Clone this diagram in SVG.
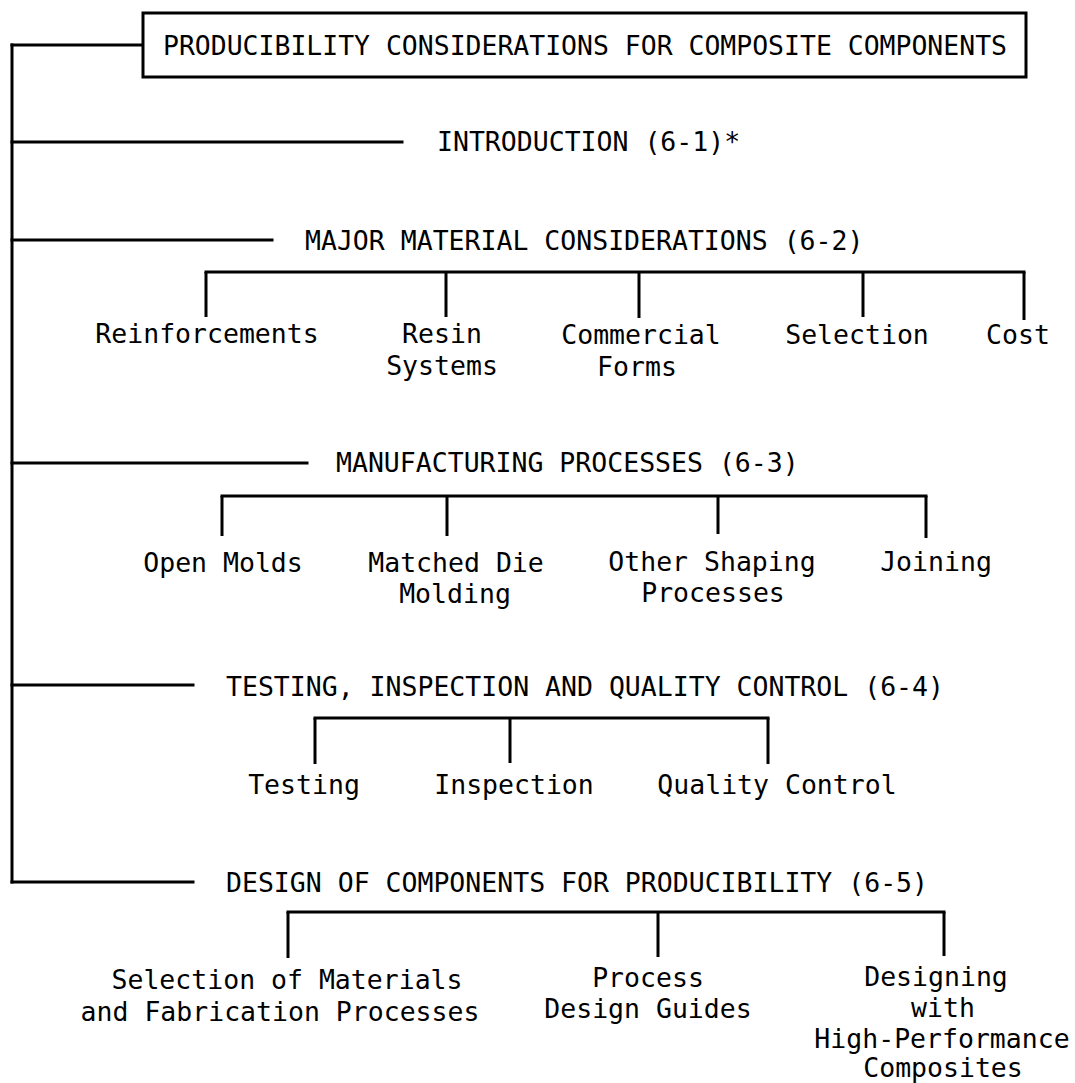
<svg xmlns="http://www.w3.org/2000/svg" width="1075" height="1083" viewBox="0 0 1075 1083">
  <style>
    .ln { stroke: #000; stroke-width: 3; fill: none; stroke-linecap: square; }
    .tk { stroke: #000; stroke-width: 3; fill: none; }
    .box { stroke: #000; stroke-width: 3; fill: #fff; }
    text { font-family: "DejaVu Sans Mono", "Liberation Mono", monospace; font-size: 26.5px; fill: #000; }
    .c { text-anchor: middle; }
  </style>
  <rect width="1075" height="1083" fill="#fff"/>

  <!-- connectors: spine, branch lines and sub-brackets -->
  <g id="connectors">
    <path class="ln" d="M12,45 V882"/>
    <path class="ln" d="M12,45 H143"/>
    <path class="ln" d="M12,142 H402"/>
    <path class="ln" d="M12,240 H272"/>
    <path class="ln" d="M12,463 H307"/>
    <path class="ln" d="M12,685 H193"/>
    <path class="ln" d="M12,882 H193"/>

    <!-- materials bracket -->
    <path class="ln" d="M206,272 H1024"/>
    <path class="tk" d="M206,272 V317 M446,272 V317 M639,272 V318 M863,272 V317 M1024,272 V320"/>

    <!-- processes bracket -->
    <path class="ln" d="M222,496 H926"/>
    <path class="tk" d="M222,496 V536 M447,496 V536 M718,496 V534 M926,496 V538"/>

    <!-- quality bracket -->
    <path class="ln" d="M315,718 H768"/>
    <path class="tk" d="M315,718 V764 M510,718 V763 M768,718 V764"/>

    <!-- design bracket -->
    <path class="ln" d="M288,912 H944"/>
    <path class="tk" d="M288,912 V958 M658,912 V957 M944,912 V956"/>
  </g>

  <g id="root">
    <rect class="box" x="143" y="13" width="883" height="64"/>
    <text x="163" y="55" textLength="844" lengthAdjust="spacingAndGlyphs">PRODUCIBILITY CONSIDERATIONS FOR COMPOSITE COMPONENTS</text>
  </g>

  <g id="introduction">
    <text x="437" y="151">INTRODUCTION (6-1)*</text>
  </g>

  <g id="materials">
    <text x="305" y="250">MAJOR MATERIAL CONSIDERATIONS (6-2)</text>
  </g>
  <g id="reinforcements"><text class="c" x="207" y="343">Reinforcements</text></g>
  <g id="resin-systems">
    <text class="c" x="442" y="343">Resin</text>
    <text class="c" x="442" y="375">Systems</text>
  </g>
  <g id="commercial-forms">
    <text class="c" x="641" y="344">Commercial</text>
    <text class="c" x="637" y="376">Forms</text>
  </g>
  <g id="selection"><text class="c" x="857" y="344">Selection</text></g>
  <g id="cost"><text class="c" x="1018" y="344">Cost</text></g>

  <g id="processes">
    <text x="336" y="472">MANUFACTURING PROCESSES (6-3)</text>
  </g>
  <g id="open-molds"><text class="c" x="223" y="572">Open Molds</text></g>
  <g id="matched-die">
    <text class="c" x="456" y="572">Matched Die</text>
    <text class="c" x="455" y="603">Molding</text>
  </g>
  <g id="other-shaping">
    <text class="c" x="712" y="571">Other Shaping</text>
    <text class="c" x="713" y="602">Processes</text>
  </g>
  <g id="joining"><text class="c" x="936" y="571">Joining</text></g>

  <g id="quality">
    <text x="226" y="696">TESTING, INSPECTION AND QUALITY CONTROL (6-4)</text>
  </g>
  <g id="testing"><text class="c" x="304" y="794">Testing</text></g>
  <g id="inspection"><text class="c" x="514" y="794">Inspection</text></g>
  <g id="quality-control"><text class="c" x="777" y="794">Quality Control</text></g>

  <g id="design">
    <text x="226" y="892">DESIGN OF COMPONENTS FOR PRODUCIBILITY (6-5)</text>
  </g>
  <g id="materials-selection">
    <text class="c" x="287" y="989">Selection of Materials</text>
    <text class="c" x="280" y="1021">and Fabrication Processes</text>
  </g>
  <g id="design-guides">
    <text class="c" x="648" y="987">Process</text>
    <text class="c" x="648" y="1018">Design Guides</text>
  </g>
  <g id="high-performance">
    <text class="c" x="936" y="986">Designing</text>
    <text class="c" x="943" y="1017">with</text>
    <text class="c" x="942" y="1048">High-Performance</text>
    <text class="c" x="943" y="1077">Composites</text>
  </g>
</svg>
